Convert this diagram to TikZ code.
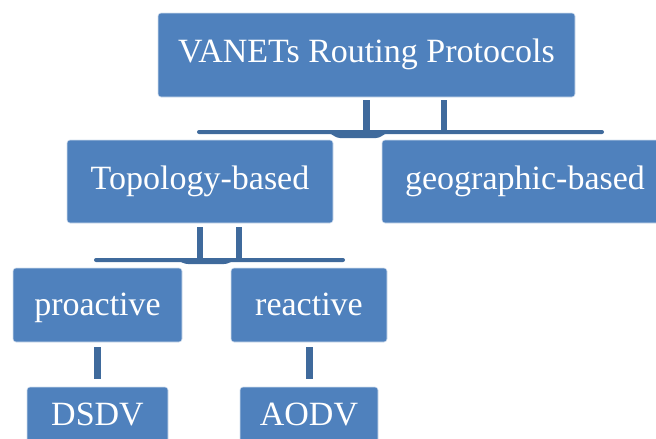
\documentclass[tikz,border=0pt]{standalone}
\usepackage{fontspec}
\setmainfont{Liberation Serif}
\definecolor{boxblue}{HTML}{4F81BD}
\definecolor{linkblue}{HTML}{3F6A9C}
\begin{document}
\begin{tikzpicture}[x=1pt,y=-1pt,
  box/.style={fill=boxblue, draw=white!75!boxblue, line width=0.6pt,
    rounded corners=3pt, text=white, inner sep=0pt,
    font=\fontsize{34}{40}\selectfont, text height=23pt, text depth=8pt},
  lowtext/.style={text depth=3pt},
  bar/.style={draw=linkblue, line width=7pt},
  rail/.style={fill=linkblue}]
\useasboundingbox (0,0) rectangle (656,439);
\clip (0,0) rectangle (656,439);

% boxes
\node[box, minimum width=417pt, minimum height=84pt] (root) at (366.5,55) {VANETs Routing Protocols};
\node[box, minimum width=266pt, minimum height=83pt] (topo) at (200,181.5) {Topology-based};
\node[box, minimum width=286pt, minimum height=83pt] (geo)  at (525,181.5) {geographic-based};
\node[box, lowtext, minimum width=169pt, minimum height=74pt] (pro) at (97.5,305) {proactive};
\node[box, lowtext, minimum width=156pt, minimum height=74pt] (rea) at (309,305) {reactive};
\node[box, minimum width=141pt, minimum height=61pt] (dsdv) at (97.5,417.5) {DSDV};
\node[box, minimum width=138pt, minimum height=61pt] (aodv) at (309,417.5) {AODV};

% bracket under the root
\fill[rail] (363,100) rectangle (370,133);
\fill[rail] (441,100) rectangle (447,133);
\fill[rail, rounded corners=2pt] (197,130) rectangle (604,134);
\fill[rail] (328,133) .. controls (333,134) and (335,138) .. (340,138)
  -- (376,138) .. controls (381,138) and (383,134) .. (388,133) -- cycle;

% bracket under Topology-based
\fill[rail] (197,227) rectangle (203,261);
\fill[rail] (236,227) rectangle (242,261);
\fill[rail, rounded corners=2pt] (94,258) rectangle (345,262);
\fill[rail] (178,261) .. controls (182,262) and (184,264) .. (188,264)
  -- (224,264) .. controls (228,264) and (230,262) .. (233,261) -- cycle;

% single links to the leaves
\draw[bar] ([yshift=-5pt]pro.south) -- ([yshift=8pt]dsdv.north);
\draw[bar] ([yshift=-5pt]rea.south) -- ([yshift=8pt]aodv.north);
\end{tikzpicture}
\end{document}
